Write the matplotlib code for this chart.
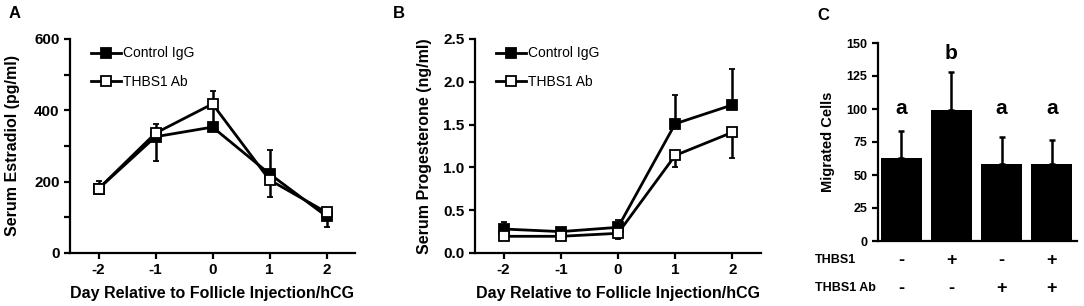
import matplotlib.pyplot as plt
from matplotlib.lines import Line2D
import numpy as np

plt.rcParams['font.family'] = ['Liberation Sans', 'DejaVu Sans']

# Panel A/B shared x
days = [-2, -1, 0, 1, 2]
series_names = ['Control IgG', 'THBS1 Ab']

# A: serum estradiol (pg/ml)
e2_ctrl = [180, 326, 353, 222, 103]
e2_ctrl_lo = [0, 0, 0, 0, 31]
e2_ctrl_hi = [22, 36, 101, 67, 0]
e2_ab = [180, 336, 418, 205, 114]
e2_ab_lo = [15, 79, 0, 49, 0]
e2_ab_hi = [0, 0, 0, 0, 10]

# B: serum progesterone (ng/ml)
p4_ctrl = [0.28, 0.25, 0.30, 1.51, 1.73]
p4_ctrl_lo = [0, 0, 0, 0, 0]
p4_ctrl_hi = [0.08, 0.02, 0.09, 0.33, 0.42]
p4_ab = [0.195, 0.195, 0.23, 1.14, 1.41]
p4_ab_lo = [0.0, 0.0, 0.07, 0.13, 0.30]
p4_ab_hi = [0, 0, 0, 0, 0]

# C: migrated cells
groups = [0, 1, 2, 3]
cells = [63, 99, 58.5, 58]
cells_err = [20.5, 29, 20, 18.5]
sig_letters = ['a', 'b', 'a', 'a']
sig_y = [100, 142, 100, 100]
thbs1_row = ['-', '+', '-', '+']
ab_row = ['-', '-', '+', '+']

W, H = 1084, 306
fig = plt.figure(figsize=(W / 100, H / 100), dpi=100)


def px_axes(x0, y0, x1, y1):
    return fig.add_axes([x0 / W, 1 - y1 / H, (x1 - x0) / W, (y1 - y0) / H])


def style(ax, fs=11):
    for s in ['top', 'right']:
        ax.spines[s].set_visible(False)
    for s in ['left', 'bottom']:
        ax.spines[s].set_linewidth(1.6)
    ax.tick_params(direction='out', width=1.6, length=4, labelsize=fs)
    ax.tick_params(which='minor', direction='out', width=1.6, length=4)
    for lab in ax.get_xticklabels() + ax.get_yticklabels():
        lab.set_fontweight('bold')


def line_panel(ax, ctrl, clo, chi, ab, alo, ahi):
    kw = dict(fmt='-s', color='black', lw=2.0, ms=7, mew=1.3,
              elinewidth=1.8, capsize=2.5, capthick=1.8)
    ax.errorbar(days, ctrl, yerr=[clo, chi], mfc='black', **kw)
    ax.errorbar(days, ab, yerr=[alo, ahi], mfc='white', **kw)
    ax.set_xlim(-2.5, 2.5)
    ax.set_xticks(days)
    ax.set_xticklabels([str(d) for d in days])
    ax.set_xlabel('Day Relative to Follicle Injection/hCG', fontsize=11.5, fontweight='bold')
    ax.xaxis.set_label_coords(0.5, -0.155)
    handles = [Line2D([], [], color='black', lw=2.0, marker='s', ms=7, mew=1.3, mfc=fc)
               for fc in ['black', 'white']]
    ax.legend(handles, series_names, loc='upper left', bbox_to_anchor=(0.075, 0.965),
              frameon=False, fontsize=10, handlelength=2.1, handletextpad=0.2,
              labelspacing=1.05, borderpad=0, borderaxespad=0)


# A
axA = px_axes(70, 39, 355, 253)
line_panel(axA, e2_ctrl, e2_ctrl_lo, e2_ctrl_hi, e2_ab, e2_ab_lo, e2_ab_hi)
axA.set_ylim(0, 600)
axA.set_yticks([0, 200, 400, 600])
axA.set_yticks([100, 300, 500], minor=True)
axA.set_ylabel('Serum Estradiol (pg/ml)', fontsize=11.5, fontweight='bold')
axA.yaxis.set_label_coords(-0.175, 0.5)
style(axA)

# B
axB = px_axes(475, 39, 761, 253)
line_panel(axB, p4_ctrl, p4_ctrl_lo, p4_ctrl_hi, p4_ab, p4_ab_lo, p4_ab_hi)
axB.set_ylim(0, 2.5)
axB.set_yticks(np.arange(0, 2.51, 0.5))
axB.set_yticklabels(['%.1f' % v for v in np.arange(0, 2.51, 0.5)])
axB.set_ylabel('Serum Progesterone (ng/ml)', fontsize=11.5, fontweight='bold')
axB.yaxis.set_label_coords(-0.15, 0.5)
style(axB)

# C
axC = px_axes(878, 43, 1077, 241)
axC.bar(groups, cells, width=0.82, color='black')
axC.errorbar(groups, cells, yerr=[[0] * 4, cells_err], fmt='none', ecolor='black',
             elinewidth=1.8, capsize=2.5, capthick=1.8)
for g, letter, y in zip(groups, sig_letters, sig_y):
    axC.text(g, y, letter, ha='center', va='center', fontsize=15, fontweight='bold')
axC.set_xlim(-0.46, 3.5)
axC.set_ylim(0, 150)
axC.set_yticks(range(0, 151, 25))
axC.set_xticks([])
axC.set_ylabel('Migrated Cells', fontsize=10.5, fontweight='bold')
axC.yaxis.set_label_coords(-0.216, 0.5)
style(axC, fs=9)
axC.tick_params(axis='x', length=0)

row_tf = axC.get_xaxis_transform()
for g, s1, s2 in zip(groups, thbs1_row, ab_row):
    axC.text(g, -0.1, s1, transform=row_tf, ha='center', va='center', fontsize=13, fontweight='bold')
    axC.text(g, -0.24, s2, transform=row_tf, ha='center', va='center', fontsize=13, fontweight='bold')
fig.text(815 / W, 1 - 260 / H, 'THBS1', ha='left', va='center', fontsize=9, fontweight='bold')
fig.text(815 / W, 1 - 288 / H, 'THBS1 Ab', ha='left', va='center', fontsize=9, fontweight='bold')

# panel letters
for x, y, t in [(15, 13, 'A'), (399, 13, 'B'), (823, 16, 'C')]:
    fig.text(x / W, 1 - y / H, t, ha='center', va='center', fontsize=12, fontweight='bold')

fig.savefig('out.png', dpi=100)
